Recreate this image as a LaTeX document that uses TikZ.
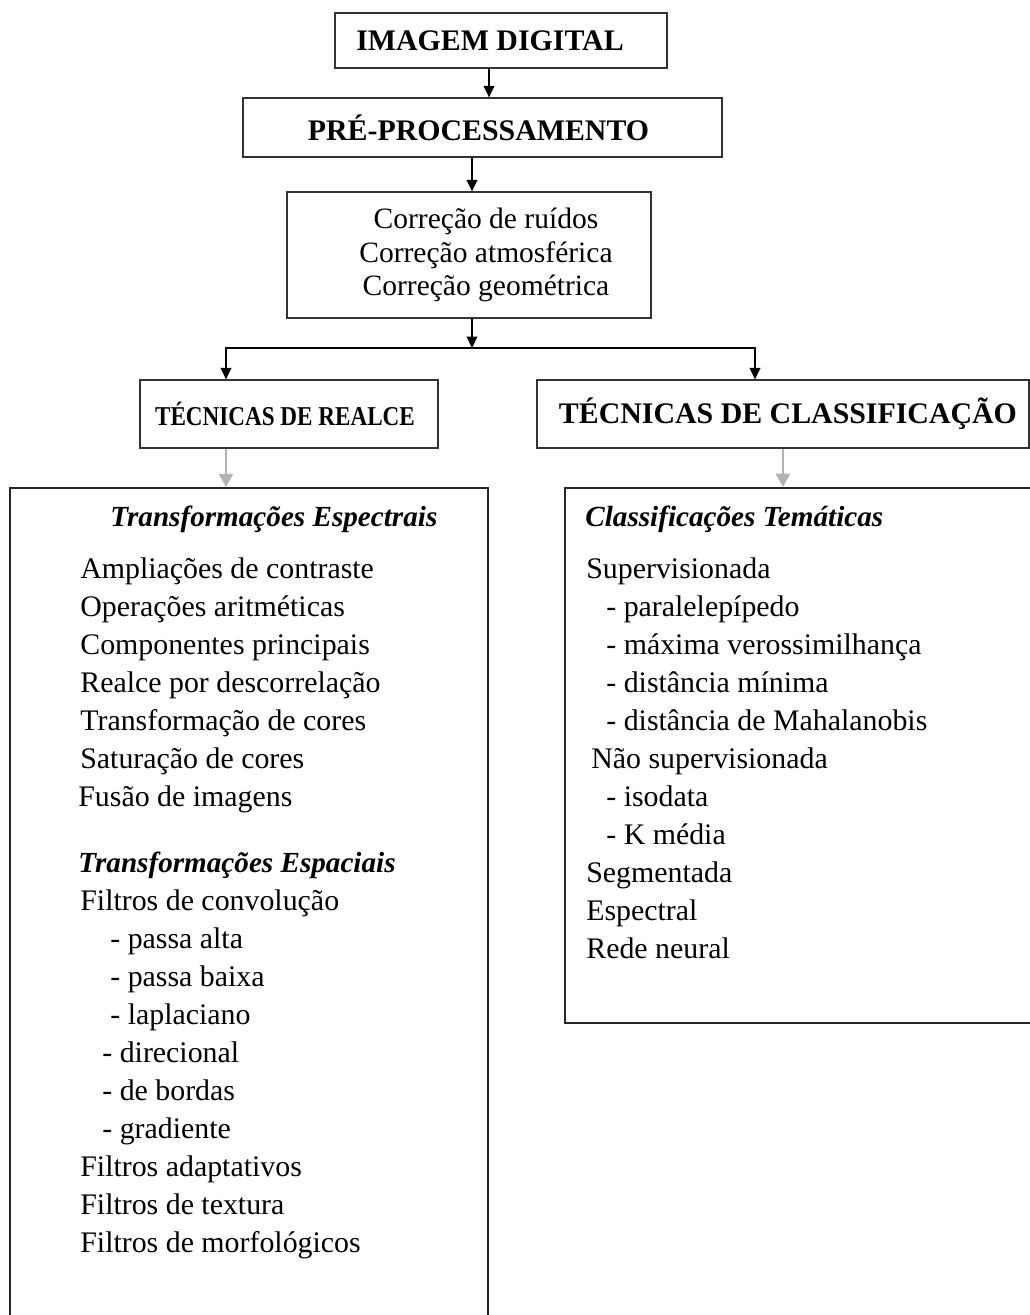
\documentclass[tikz,border=0pt]{standalone}
\usepackage{fontspec}
\setmainfont{Liberation Serif}
\usetikzlibrary{arrows.meta,positioning,calc}

\begin{document}
\begin{tikzpicture}[x=0.02cm, y=-0.02cm,
    box/.style={draw=black!80, line width=0.7pt, align=center, inner sep=0pt, font=\fontsize{17}{19.5}\selectfont\bfseries},
    bigbox/.style={draw=black!85, line width=1.3pt, inner sep=0pt},
    arr/.style={-{Triangle[length=6.5pt,width=6pt]}, line width=1pt},
    garr/.style={-{Triangle[length=7.5pt,width=8pt]}, line width=1.3pt, black!30},
    item/.style={anchor=base west, inner sep=0pt, font=\fontsize{17}{20}\selectfont},
    head/.style={item, font=\fontsize{16.6}{20}\selectfont\bfseries\itshape}
]
\useasboundingbox (0,0) rectangle (1030,1315);

% caixas do topo
\node[box, minimum width=6.64cm, minimum height=1.1cm] (img) at (501,40.5) {IMAGEM DIGITAL\hspace*{0.44cm}};
\node[box, minimum width=9.58cm, minimum height=1.18cm] (pre) at (482.5,127.5) {PRÉ-PROCESSAMENTO\hspace*{0.16cm}};
\node[box, minimum width=7.28cm, minimum height=2.52cm, font=\fontsize{16.8}{19.3}\selectfont] (corr) at (469,255)
    {\hspace*{0.68cm}Correção de ruídos\\\hspace*{0.68cm}Correção atmosférica\\\hspace*{0.68cm}Correção geométrica};
\node[box, minimum width=5.96cm, minimum height=1.36cm, font=\fontsize{15.5}{18}\selectfont\bfseries] (realce) at (289,414)
    {\scalebox{0.85}[1]{TÉCNICAS DE REALCE}\hspace*{0.16cm}};
\node[box, minimum width=9.84cm, minimum height=1.36cm] (class) at (783,414) {\hspace*{0.2cm}TÉCNICAS DE CLASSIFICAÇÃO};

% caixas grandes
\node[bigbox, minimum width=9.56cm, minimum height=17.04cm] (esp) at (249,914) {};
\node[bigbox, minimum width=9.7cm, minimum height=10.7cm] (them) at (807.5,755.5) {};

% ligacoes
\coordinate (split) at (472,348);
\coordinate (lk) at (226,348);
\coordinate (rk) at (755,348);
\draw[arr] ([xshift=-0.24cm]img.south) -- ([xshift=-0.24cm]img.south |- pre.north);
\draw[arr] ([xshift=-0.21cm]pre.south) -- ([xshift=-0.21cm]pre.south |- corr.north);
\draw[arr] ([xshift=0.06cm]corr.south) -- (split);
\draw[arr] (split) -- (lk) -- (lk |- realce.north);
\draw[arr] (split) -- (rk) -- (rk |- class.north);
\draw[garr] (lk |- realce.south) -- (lk |- esp.north);
\draw[garr] (class.south) -- (class.south |- them.north);

% realce
\node[head] (h1) at (110,526) {Transformações Espectrais};
\node[item] (e1) at (80,578) {Ampliações de contraste};
\node[item] (e2) at (80,616) {Operações aritméticas};
\node[item] (e3) at (80,654) {Componentes principais};
\node[item] (e4) at (80,692) {Realce por descorrelação};
\node[item] (e5) at (80,730) {Transformação de cores};
\node[item] (e6) at (80,768) {Saturação de cores};
\node[item] (e7) at (78,806) {Fusão de imagens};
\node[head] (h2) at (78,872) {Transformações Espaciais};
\node[item] (f1) at (80,910) {Filtros de convolução};
\node[item] (f2) at (110,948) {- passa alta};
\node[item] (f3) at (110,986) {- passa baixa};
\node[item] (f4) at (110,1024) {- laplaciano};
\node[item] (f5) at (102,1062) {- direcional};
\node[item] (f6) at (102,1100) {- de bordas};
\node[item] (f7) at (102,1138) {- gradiente};
\node[item] (f8) at (80,1176) {Filtros adaptativos};
\node[item] (f9) at (80,1214) {Filtros de textura};
\node[item] (f10) at (80,1252) {Filtros de morfológicos};

% classificacao
\node[head] (h3) at (585,526) {Classificações Temáticas};
\node[item] (c1) at (586,578) {Supervisionada};
\node[item] (c2) at (606,616) {- paralelepípedo};
\node[item] (c3) at (606,654) {- máxima verossimilhança};
\node[item] (c4) at (606,692) {- distância mínima};
\node[item] (c5) at (606,730) {- distância de Mahalanobis};
\node[item] (c6) at (591,768) {Não supervisionada};
\node[item] (c7) at (606,806) {- isodata};
\node[item] (c8) at (606,844) {- K média};
\node[item] (c9) at (586,882) {Segmentada};
\node[item] (c10) at (586,920) {Espectral};
\node[item] (c11) at (586,958) {Rede neural};
\end{tikzpicture}
\end{document}
